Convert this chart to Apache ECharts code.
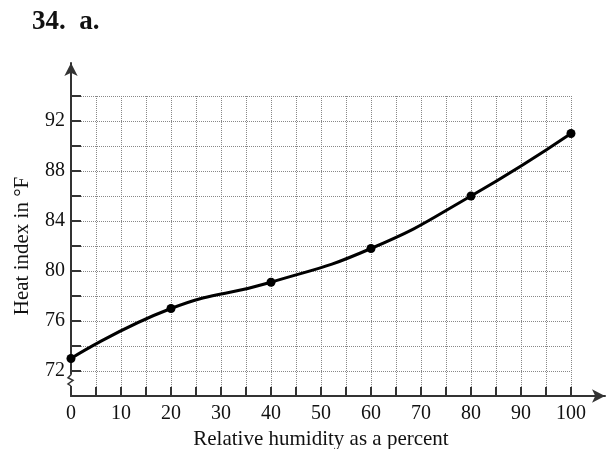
<!DOCTYPE html>
<html><head><meta charset="utf-8">
<script src="https://cdn.jsdelivr.net/npm/echarts@6/dist/echarts.min.js"></script>
<style>html,body{margin:0;padding:0;background:#fff;overflow:hidden}#c{width:610px;height:449px}</style>
</head><body><div id="c"></div>
<script>
var humidity = [0, 20, 40, 60, 80, 100];
var heatIndex = [73, 77, 79.1, 81.8, 86, 91];
var titleText = '34.  a.';
var xName = 'Relative humidity as a percent';
var yName = 'Heat index in \u00B0F';

var serif = '"Liberation Serif", "DejaVu Serif", serif';
var chart = echarts.init(document.getElementById('c'));
var axisColor = '#333';
chart.setOption({
  animation: false,
  title: { text: titleText, left: 27, top: 4, textStyle: { fontFamily: serif, fontSize: 27, fontWeight: 'bold', color: '#111' } },
  grid: [
    { left: 71, width: 500, top: 96, height: 300, containLabel: false, outerBoundsMode: 'none' },
    { left: 71, width: 534, top: 63, height: 333, containLabel: false, outerBoundsMode: 'none' }
  ],
  xAxis: [
    { type: 'value', gridIndex: 0, min: 0, max: 100, interval: 5,
      name: xName, nameLocation: 'middle', nameGap: 33,
      nameTextStyle: { fontFamily: serif, fontSize: 21, color: '#111' },
      axisLine: { show: false },
      axisTick: { show: true, inside: true, length: 9, lineStyle: { color: axisColor, width: 2 } },
      axisLabel: { fontFamily: serif, fontSize: 20, color: '#111', margin: 8,
        formatter: function (v) { return v % 10 === 0 ? String(v) : ''; } },
      splitLine: { show: true, lineStyle: { type: 'dotted', color: '#888', width: 1 } }
    },
    { type: 'value', gridIndex: 1, min: 0, max: 1,
      axisLine: { show: true, symbol: ['none', 'arrow'], symbolSize: [10, 13], lineStyle: { color: axisColor, width: 2 } },
      axisTick: { show: false }, axisLabel: { show: false }, splitLine: { show: false } }
  ],
  yAxis: [
    { type: 'value', gridIndex: 0, min: 70, max: 94, interval: 2,
      name: yName, nameLocation: 'middle', nameGap: 38,
      nameTextStyle: { fontFamily: serif, fontSize: 21, color: '#111' },
      axisLine: { show: false },
      axisTick: { show: true, inside: true, length: 10, lineStyle: { color: axisColor, width: 2 } },
      axisLabel: { fontFamily: serif, fontSize: 20, color: '#111', margin: 6,
        formatter: function (v) { return (v % 4 === 0) ? String(v) : ''; } },
      splitLine: { show: true, lineStyle: { type: 'dotted', color: '#888', width: 1 } }
    },
    { type: 'value', gridIndex: 1, min: 0, max: 1,
      axisLine: { show: true, symbol: ['none', 'arrow'], symbolSize: [10, 13], lineStyle: { color: axisColor, width: 2 } },
      axisTick: { show: false }, axisLabel: { show: false }, splitLine: { show: false } }
  ],
  series: [{
    type: 'line', xAxisIndex: 0, yAxisIndex: 0,
    data: humidity.map(function (h, i) { return [h, heatIndex[i]]; }),
    smooth: 0.5, symbol: 'circle', symbolSize: 9,
    lineStyle: { color: '#000', width: 3 }, itemStyle: { color: '#000' }, z: 5
  }]
});

// axis break mark on y axis between 70 and 72
var pTop = chart.convertToPixel({ xAxisIndex: 0, yAxisIndex: 0 }, [0, 71.7]);
var pBot = chart.convertToPixel({ xAxisIndex: 0, yAxisIndex: 0 }, [0, 70.8]);
var ax = pTop[0], y1 = pTop[1], y2 = pBot[1];
var mid = (y1 + y2) / 2;
chart.setOption({
  graphic: [
    { type: 'rect', shape: { x: ax - 3, y: y1, width: 6, height: y2 - y1 }, style: { fill: '#fff' }, z: 100 },
    { type: 'polyline', shape: { points: [[ax, y1], [ax - 3, y1 + 3], [ax + 2, mid], [ax - 3, y2 - 2], [ax, y2]] },
      style: { stroke: axisColor, lineWidth: 1.5, fill: null }, z: 101 }
  ]
});
</script></body></html>
